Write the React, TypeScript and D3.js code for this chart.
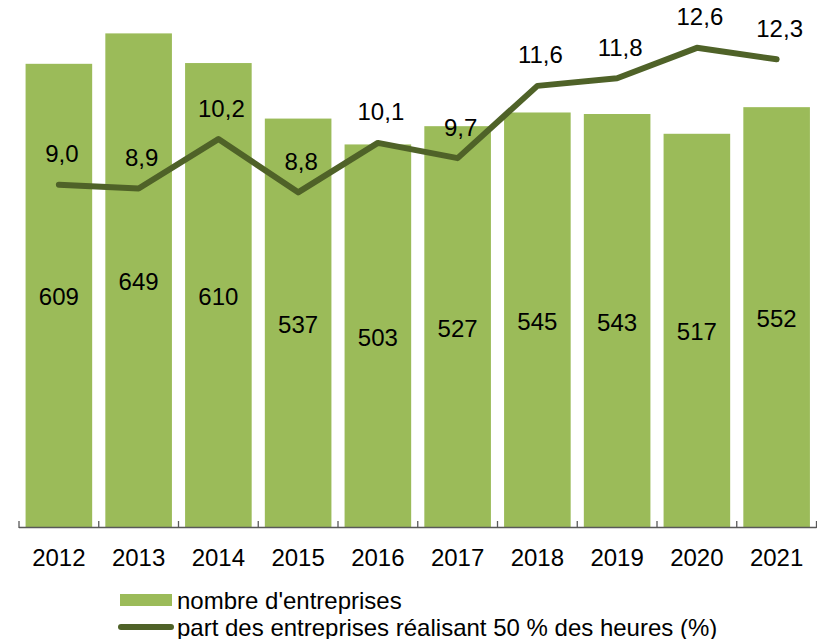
import React from "react";
import * as d3 from "d3";

const years = ["2012", "2013", "2014", "2015", "2016", "2017", "2018", "2019", "2020", "2021"];
const nombreEntreprises = [609, 649, 610, 537, 503, 527, 545, 543, 517, 552];
const partEntreprises = [9.0, 8.9, 10.2, 8.8, 10.1, 9.7, 11.6, 11.8, 12.6, 12.3];
const legendLabels = ["nombre d'entreprises", "part des entreprises réalisant 50 % des heures (%)"];

const W = 817;
const H = 639;
const FONT = "'Liberation Sans', Arial, sans-serif";
const BAR_COLOR = "#9bbb59";
const LINE_COLOR = "#4f6228";
const FS = 24;

export default function App() {
  const x = d3.scaleBand<string>().domain(years).range([19, 816.5]).paddingInner(0.165).paddingOuter(0.0825);
  const yBar = d3.scaleLinear().domain([0, 700]).range([527, -5.4]);
  const yLine = d3.scaleLinear().domain([0, 14]).range([527, -5.4]);
  const cx = (y: string) => (x(y) as number) + x.bandwidth() / 2;
  const step = x.step();
  const line = d3
    .line<number>()
    .x((_, i) => cx(years[i]))
    .y((d) => yLine(d));
  const fmt = (v: number) => v.toFixed(1).replace(".", ",");
  const tickXs = d3.range(years.length + 1).map((i) => 19 + i * step);

  return (
    <svg width={W} height={H} style={{ position: "absolute", left: 0, top: 0, display: "block" }} fontFamily={FONT}>
      <rect width={W} height={H} fill="#ffffff" />
      {years.map((yr, i) => (
        <rect
          key={yr}
          x={x(yr)}
          y={yBar(nombreEntreprises[i])}
          width={x.bandwidth()}
          height={yBar(0) - yBar(nombreEntreprises[i])}
          fill={BAR_COLOR}
        />
      ))}
      {years.map((yr, i) => (
        <text
          key={"bl" + yr}
          x={cx(yr)}
          y={(yBar(nombreEntreprises[i]) + yBar(0)) / 2 + 1.5}
          textAnchor="middle"
          dominantBaseline="central"
          fontSize={FS}
          fill="#000"
        >
          {nombreEntreprises[i]}
        </text>
      ))}
      <line x1={19} x2={816.5} y1={527.5} y2={527.5} stroke="#595959" strokeWidth={1.3} />
      {tickXs.map((tx, i) => (
        <line key={"t" + i} x1={tx} x2={tx} y1={521} y2={528} stroke="#595959" strokeWidth={1.3} />
      ))}
      {years.map((yr) => (
        <text key={"xl" + yr} x={cx(yr)} y={557} textAnchor="middle" dominantBaseline="central" fontSize={FS} fill="#000">
          {yr}
        </text>
      ))}
      <path
        d={line(partEntreprises) || ""}
        fill="none"
        stroke={LINE_COLOR}
        strokeWidth={6}
        strokeLinejoin="round"
        strokeLinecap="round"
      />
      {years.map((yr, i) => (
        <text
          key={"ll" + yr}
          x={cx(yr) + 3}
          y={yLine(partEntreprises[i]) - 31}
          textAnchor="middle"
          dominantBaseline="central"
          fontSize={FS}
          fill="#000"
        >
          {fmt(partEntreprises[i])}
        </text>
      ))}
      <rect x={120} y={594} width={52} height={12} fill={BAR_COLOR} />
      <text x={177} y={600} dominantBaseline="central" fontSize={FS} fill="#000">
        {legendLabels[0]}
      </text>
      <line x1={121} x2={171} y1={627} y2={627} stroke={LINE_COLOR} strokeWidth={6} strokeLinecap="round" />
      <text x={177} y={627} dominantBaseline="central" fontSize={FS} fill="#000">
        {legendLabels[1]}
      </text>
    </svg>
  );
}
